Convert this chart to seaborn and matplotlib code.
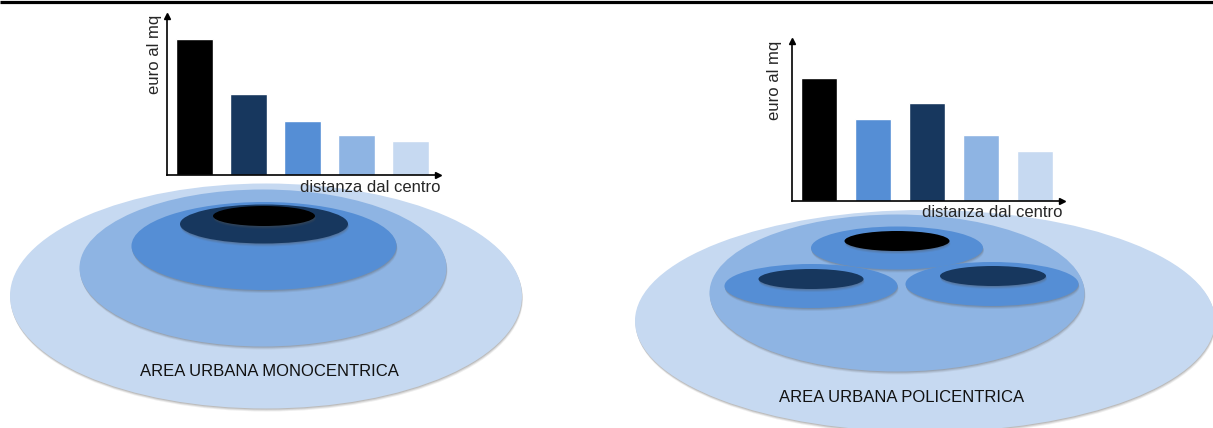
import matplotlib
matplotlib.use("Agg")
import matplotlib.pyplot as plt
from matplotlib.patches import Ellipse
import seaborn as sns

sns.set_theme(style="white")
plt.rcParams["font.family"] = ["Liberation Sans", "DejaVu Sans"]

# Zone colours, from the core outwards
BLACK = "#000000"
NAVY = "#17375E"
MID = "#558ED5"
LIGHT = "#8EB4E3"
PALE = "#C6D9F1"

# Price per square metre by distance band (relative units)
zones = ["nucleo", "anello 1", "anello 2", "anello 3", "periferia"]
mono_values = [136, 81, 54, 40, 34]
mono_colors = [BLACK, NAVY, MID, LIGHT, PALE]
poli_values = [123, 82, 98, 66, 50]
poli_colors = [BLACK, MID, NAVY, LIGHT, PALE]

y_label = "euro al mq"
x_label = "distanza dal centro"
title_mono = "AREA URBANA MONOCENTRICA"
title_poli = "AREA URBANA POLICENTRICA"

W, H = 1213, 428
fig = plt.figure(figsize=(W / 100, H / 100), dpi=100)

# Background canvas in pixel units for the zone diagrams
bg = fig.add_axes([0, 0, 1, 1])
bg.set_xlim(0, W)
bg.set_ylim(H, 0)
bg.axis("off")

bg.plot([0, W], [1.5, 1.5], color="black", lw=2.3, solid_capstyle="butt")


def zone(cx, cy, w, h, color, z):
    # soft drop shadow under each zone
    for k, a in ((3.0, 0.10), (2.0, 0.15), (1.0, 0.2)):
        bg.add_patch(Ellipse((cx + 0.3 * k, cy + k), w, h, facecolor="#555555",
                             edgecolor="none", alpha=a, zorder=z - 0.1))
    bg.add_patch(Ellipse((cx, cy), w, h, facecolor=color, edgecolor="none", zorder=z))


# Monocentric city: concentric rings
zone(266, 296, 512, 225, PALE, 1)
zone(263, 268, 367, 157, LIGHT, 2)
zone(264, 246, 265, 88, MID, 3)
zone(264, 224, 168, 39, NAVY, 4)
zone(264, 216, 102, 20, BLACK, 5)

# Polycentric city: three cores inside a shared ring
zone(925, 321, 580, 222, PALE, 1)
zone(897, 293, 375, 157, LIGHT, 2)
zone(897, 248, 172, 43, MID, 3)
zone(897, 241, 105, 20, BLACK, 4)
zone(811, 286, 173, 44, MID, 5)
zone(811, 279, 105, 20, NAVY, 6)
zone(992, 284, 173, 44, MID, 5)
zone(993, 276, 106, 20, NAVY, 6)

bg.text(269, 372, title_mono, ha="center", va="center", fontsize=12, color="#111111")
bg.text(902, 397, title_poli, ha="center", va="center", fontsize=12, color="#111111")


def price_chart(x0, y0, x1, y1, values, colors):
    ax = fig.add_axes([x0 / W, (H - y0) / H, (x1 - x0) / W, (y0 - y1) / H])
    ax.patch.set_alpha(0)
    sns.barplot(x=zones, y=values, hue=zones, palette=colors, legend=False,
                saturation=1, width=0.68, ax=ax)
    ax.set_xlim(-0.5, 4.5)
    ax.set_ylim(0, y0 - y1)
    ax.set_xticks([])
    ax.set_yticks([])
    ax.set_xlabel("")
    ax.set_ylabel("")
    for s in ("top", "right"):
        ax.spines[s].set_visible(False)
    for s in ("left", "bottom"):
        ax.spines[s].set_color("black")
        ax.spines[s].set_linewidth(1.2)
    ax.plot(1, 0, ">", color="black", ms=5, transform=ax.transAxes, clip_on=False)
    ax.plot(0, 1, "^", color="black", ms=5, transform=ax.transAxes, clip_on=False)
    return ax


price_chart(167, 175, 438, 16, mono_values, mono_colors)
price_chart(792, 201, 1062, 41, poli_values, poli_colors)

bg.text(155, 54, y_label, rotation=90, ha="center", va="center", fontsize=12, zorder=10)
bg.text(440, 187, x_label, ha="right", va="center", fontsize=12, zorder=10)
bg.text(775, 80, y_label, rotation=90, ha="center", va="center", fontsize=12, zorder=10)
bg.text(1062, 212, x_label, ha="right", va="center", fontsize=12, zorder=10)

fig.savefig("out.png", dpi=100)
